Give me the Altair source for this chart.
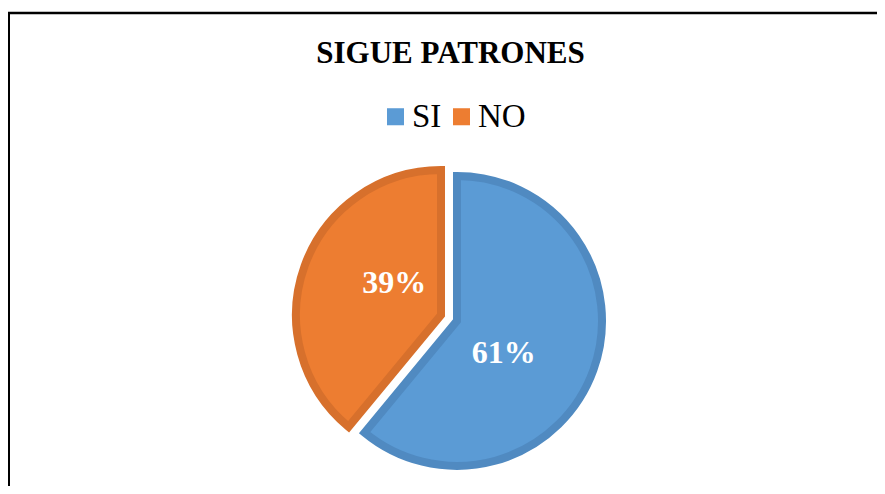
import numpy as np
import pandas as pd
import altair as alt

# ---- data ----
categories = ["SI", "NO"]
values = [61, 39]
labels = ["61%", "39%"]
fill_colors = ["#5B9BD5", "#ED7D31"]
stroke_colors = ["#508AC1", "#D7702C"]

# ---- layout constants ----
W, H = 869, 478
CX, CY = 441, 310          # pie centre (px)
R = 145                    # slice radius
EXPLODE = 8.5              # explosion offset of each slice
STROKE_W = 8
LABEL_R = 57
LABEL_ROT = np.deg2rad(15)

vals = np.array(values, dtype=float)
frac = vals / vals.sum()
t1 = np.cumsum(frac) * 2 * np.pi
t0 = t1 - frac * 2 * np.pi
mid = (t0 + t1) / 2
cx = CX + EXPLODE * np.sin(mid)
cy = CY - EXPLODE * np.cos(mid)
lx = cx + LABEL_R * np.sin(mid + LABEL_ROT)
ly = cy - LABEL_R * np.cos(mid + LABEL_ROT)

df = pd.DataFrame({
    "cat": categories, "label": labels,
    "t0": t0, "t1": t1, "cx": cx, "cy": cy, "lx": lx, "ly": ly,
})

frame_df = pd.DataFrame({"k": [0]})

frame_top = alt.Chart(frame_df).mark_rule(color="black", strokeWidth=2.5).encode(
    x=alt.value(0), x2=alt.value(W), y=alt.value(5)
)
frame_left = alt.Chart(frame_df).mark_rule(color="black", strokeWidth=3).encode(
    x=alt.value(0.5), y=alt.value(4), y2=alt.value(H)
)

arcs = alt.Chart(df).mark_arc(radius=R, strokeWidth=STROKE_W, strokeJoin="miter").encode(
    theta=alt.Theta("t0:Q", scale=None),
    theta2=alt.Theta2("t1:Q"),
    x=alt.X("cx:Q", scale=None, axis=None),
    y=alt.Y("cy:Q", scale=None, axis=None),
    fill=alt.Fill(
        "cat:N",
        scale=alt.Scale(domain=categories, range=fill_colors),
        legend=alt.Legend(
            title=None, orient="none", legendX=371, legendY=92,
            direction="horizontal", symbolType="square", symbolSize=290,
            symbolStrokeWidth=0, labelFont="Liberation Serif", labelFontSize=33,
            labelColor="black", labelOffset=0, columnPadding=3, padding=0,
        ),
    ),
    stroke=alt.Stroke("cat:N", scale=alt.Scale(domain=categories, range=stroke_colors), legend=None),
    order=alt.Order("t0:Q"),
)

texts = alt.Chart(df).mark_text(
    font="Liberation Serif", fontSize=32, fontWeight="bold", color="white",
    align="center", baseline="middle",
).encode(
    x=alt.X("lx:Q", scale=None, axis=None),
    y=alt.Y("ly:Q", scale=None, axis=None),
    text="label:N",
)

chart = alt.layer(frame_top, frame_left, arcs, texts).properties(
    width=W, height=H, padding=0,
    autosize=alt.AutoSizeParams(type="none"),
    background="white",
    title=alt.TitleParams(
        "SIGUE PATRONES", font="Liberation Serif", fontSize=31, fontWeight="bold",
        color="black", anchor="middle", frame="group", orient="top",
        baseline="alphabetic", offset=-59, dx=8, dy=27,
    ),
).configure_view(stroke=None)

chart.save("out.html", embed_options={"renderer": "svg", "actions": False})
